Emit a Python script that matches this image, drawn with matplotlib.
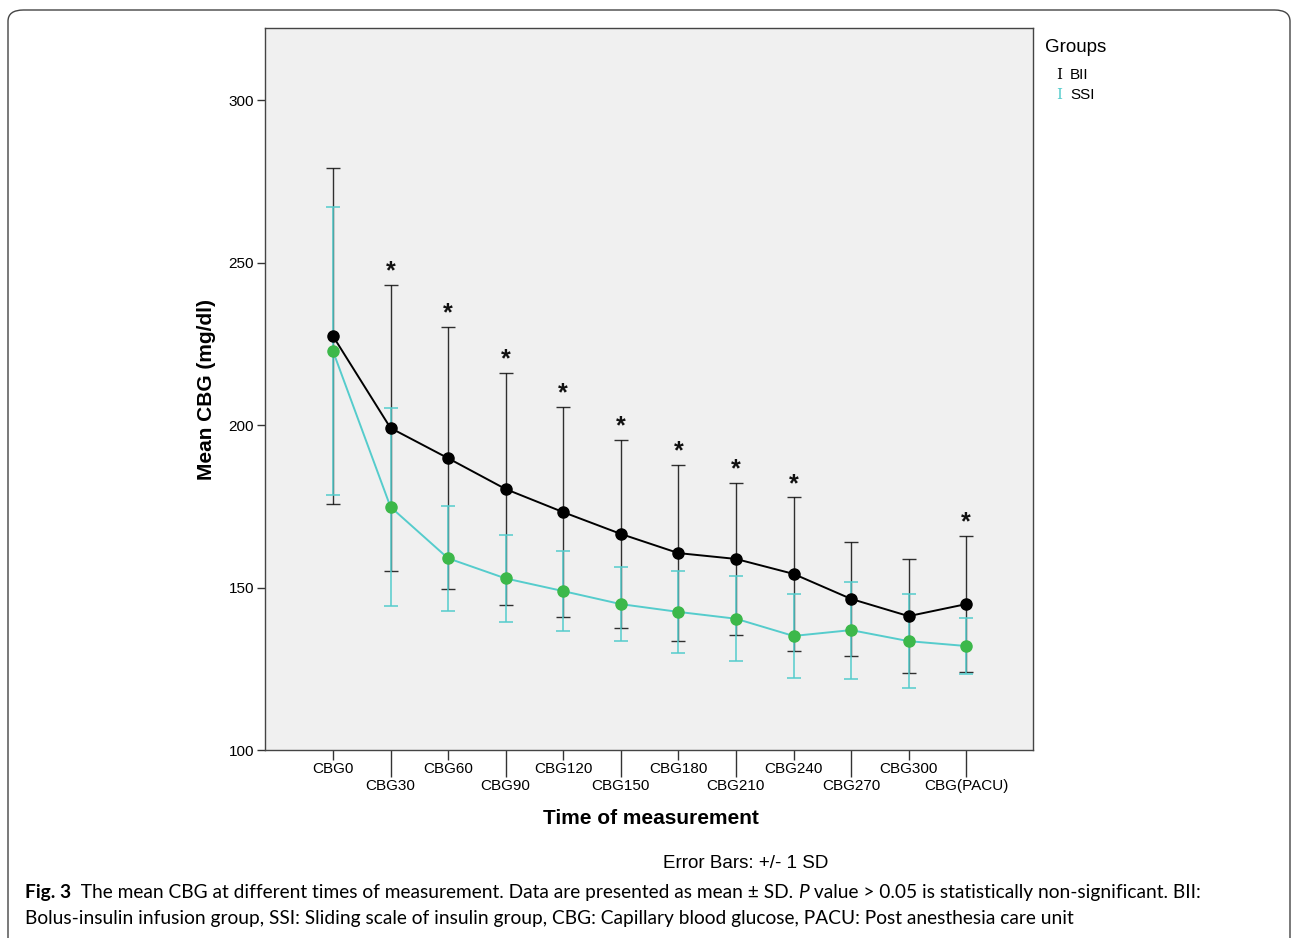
import matplotlib
matplotlib.use('Agg')
import matplotlib.pyplot as plt
import numpy as np
from matplotlib.patches import FancyBboxPatch
from matplotlib import font_manager

categories = ['CBG0', 'CBG30', 'CBG60', 'CBG90', 'CBG120', 'CBG150', 'CBG180',
              'CBG210', 'CBG240', 'CBG270', 'CBG300', 'CBG(PACU)']
bii_mean = [227.4, 199.1, 189.8, 180.3, 173.2, 166.5, 160.6, 158.8, 154.2, 146.5, 141.2, 144.9]
bii_sd = [51.7, 44.0, 40.4, 35.7, 32.3, 28.9, 27.1, 23.4, 23.6, 17.5, 17.6, 20.9]
ssi_mean = [222.8, 174.8, 159.0, 152.8, 148.9, 144.9, 142.5, 140.4, 135.1, 136.9, 133.5, 132.0]
ssi_sd = [44.3, 30.5, 16.1, 13.4, 12.2, 11.5, 12.7, 13.1, 13.0, 14.9, 14.4, 8.6]
significant = [False, True, True, True, True, True, True, True, True, False, False, True]
y_ticks = [100, 150, 200, 250, 300]

BII_COLOR = '#000000'
SSI_LINE = '#55cccc'
SSI_MARK = '#3cb84a'
SANS = ['Liberation Sans', 'DejaVu Sans']

W, H = 1292, 938
fig = plt.figure(figsize=(W / 100, H / 100), dpi=100)
fig.patch.set_facecolor('white')

# rounded frame around the figure
frame = FancyBboxPatch((8 / W, -0.02), (1282 / W), 1 - 10 / H + 0.02,
                       boxstyle='round,pad=0,rounding_size=0.012',
                       transform=fig.transFigure, facecolor='none',
                       edgecolor='#444444', linewidth=1.0)
fig.patches.append(frame)

ax = fig.add_axes([265 / W, 1 - 750 / H, (1033 - 265) / W, (750 - 28) / H])
ax.set_facecolor('#f0f0f0')

x = np.arange(len(categories))
bii_mean_a = np.array(bii_mean)
ssi_mean_a = np.array(ssi_mean)

ax.errorbar(x, bii_mean_a, yerr=bii_sd, fmt='none', ecolor=BII_COLOR,
            elinewidth=1.0, capsize=5, capthick=1.0, alpha=0.8, zorder=2)
ax.errorbar(x, ssi_mean_a, yerr=ssi_sd, fmt='none', ecolor=SSI_LINE,
            elinewidth=1.3, capsize=5, capthick=1.3, alpha=0.85, zorder=3)
ax.plot(x, bii_mean_a, color=BII_COLOR, lw=1.4, zorder=4)
ax.plot(x, ssi_mean_a, color=SSI_LINE, lw=1.4, zorder=4)
ax.plot(x, bii_mean_a, 'o', color=BII_COLOR, ms=8, zorder=5)
ax.plot(x, ssi_mean_a, 'o', color=SSI_MARK, ms=8, zorder=6)

for i, sig in enumerate(significant):
    if sig:
        ax.annotate('*', xy=(x[i], bii_mean[i] + bii_sd[i]), xytext=(0, 1),
                    textcoords='offset points', ha='center', va='bottom',
                    fontsize=18, fontweight='bold', family=SANS, color='#111111')

ax.set_xlim(-1.18, len(categories) - 1 + 1.16)
ax.set_ylim(100, 322.2)
ax.set_yticks(y_ticks)
ax.set_yticklabels([str(v) for v in y_ticks], family=SANS, fontsize=11)
ax.tick_params(axis='y', length=6, width=1, color='#333333', pad=2)

ax.set_xticks(x[0::2])
ax.set_xticklabels(categories[0::2], family=SANS, fontsize=11)
ax.set_xticks(x[1::2], minor=True)
ax.set_xticklabels(categories[1::2], minor=True, family=SANS, fontsize=11)
ax.tick_params(axis='x', which='major', length=7, width=1, color='#333333', pad=1.5)
ax.tick_params(axis='x', which='minor', length=19.5, width=1, color='#333333', pad=1.5)

for s in ax.spines.values():
    s.set_color('#444444')
    s.set_linewidth(1.0)

ax.set_xlabel('Time of measurement', family=SANS, fontsize=15, fontweight='bold')
ax.set_ylabel('Mean CBG (mg/dl)', family=SANS, fontsize=15, fontweight='bold')
ax.xaxis.set_label_coords(0.502, -0.082)
ax.yaxis.set_label_coords(-0.064, 0.5)

# legend
fig.text(1045 / W, 1 - 47 / H, 'Groups', family=SANS, fontsize=13.5, va='center', ha='left')
fig.text(1056 / W, 1 - 75 / H, 'I', family=['DejaVu Serif'], fontsize=11,
         color=BII_COLOR, va='center', ha='left')
fig.text(1070 / W, 1 - 75 / H, 'BII', family=SANS, fontsize=11, va='center', ha='left')
fig.text(1056 / W, 1 - 95 / H, 'I', family=['DejaVu Serif'], fontsize=11,
         color=SSI_LINE, va='center', ha='left')
fig.text(1070 / W, 1 - 95 / H, 'SSI', family=SANS, fontsize=11, va='center', ha='left')

fig.text(746 / W, 1 - 863 / H, 'Error Bars: +/- 1 SD', family=SANS, fontsize=13.5,
         ha='center', va='center')

# caption
names = {f.name for f in font_manager.fontManager.ttflist}
cap_fam = ['Liberation Sans Narrow'] if 'Liberation Sans Narrow' in names else ['Lato']
renderer = fig.canvas.get_renderer()


def chain(xpx, ypx, segs, size):
    objs = []
    cur = xpx
    for txt, kw in segs:
        t = fig.text(cur / W, 1 - ypx / H, txt, fontsize=size, family=cap_fam + ['DejaVu Sans'],
                     va='baseline', ha='left', **kw)
        bb = t.get_window_extent(renderer)
        cur = bb.x1
        objs.append(t)
    return objs, cur


line1 = [('Fig. 3', dict(fontweight='bold')),
         ('  The mean CBG at different times of measurement. Data are presented as mean ± SD. ', {}),
         ('P', dict(style='italic')),
         (' value > 0.05 is statistically non-significant. BII:', {})]
line2 = [('Bolus-insulin infusion group, SSI: Sliding scale of insulin group, CBG: Capillary blood glucose, PACU: Post anesthesia care unit', {})]

size = 13.0
objs, end = chain(25, 898, line1, size)
scale = (1198 - 25) / (end - 25)
for o in objs:
    o.remove()
size = size * scale
chain(25, 898, line1, size)
chain(25, 924, line2, size)

fig.savefig('out.png', dpi=100)
